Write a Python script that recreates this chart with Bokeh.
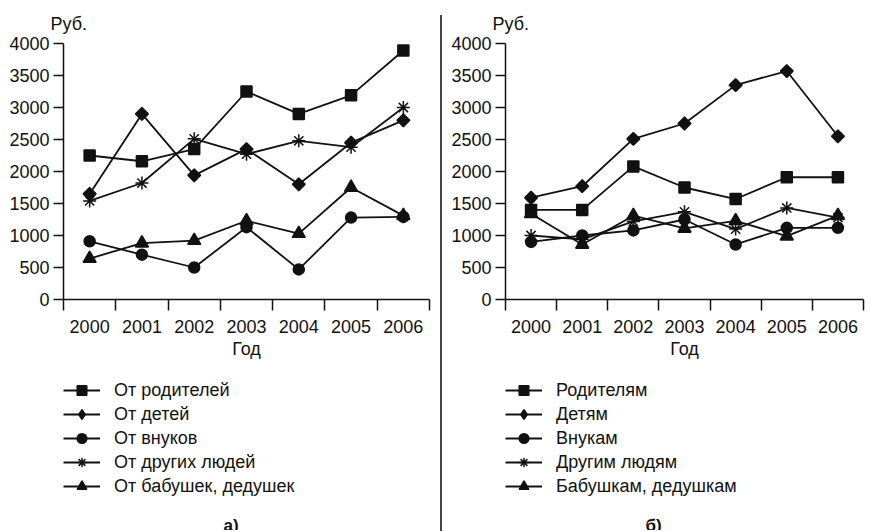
import math
from bokeh.plotting import figure
from bokeh.models import Range1d, FixedTicker, Legend, LegendItem, Label, Div
from bokeh.layouts import row, column
from bokeh.embed import file_html
from bokeh.resources import INLINE

# ---- data ----
years = [2000, 2001, 2002, 2003, 2004, 2005, 2006]
y_ticks = [0, 500, 1000, 1500, 2000, 2500, 3000, 3500, 4000]
unit_label = "Руб."
x_label = "Год"

# (а) received
left_labels = ["От родителей", "От детей", "От внуков", "От других людей", "От бабушек, дедушек"]
from_parents = [2250, 2160, 2350, 3250, 2900, 3190, 3890]
from_children = [1650, 2900, 1940, 2350, 1800, 2450, 2800]
from_grandchildren = [910, 700, 500, 1130, 470, 1280, 1290]
from_others = [1540, 1820, 2510, 2270, 2480, 2380, 3000]
from_grandparents = [640, 880, 920, 1230, 1030, 1750, 1310]

# (б) given
right_labels = ["Родителям", "Детям", "Внукам", "Другим людям", "Бабушкам, дедушкам"]
to_parents = [1400, 1400, 2080, 1750, 1570, 1910, 1910]
to_children = [1590, 1770, 2510, 2750, 3350, 3570, 2550]
to_grandchildren = [900, 1000, 1080, 1250, 860, 1120, 1120]
to_others = [1000, 940, 1220, 1370, 1100, 1430, 1280]
to_grandparents = [1340, 860, 1310, 1110, 1230, 990, 1310]

FONT = "Liberation Sans"
INK = "#111111"
FS = "18px"

# marker style per series: (marker, angle, size) for the chart, and legend marker
styles = [("square", 0.0, 11), ("square", math.pi / 4, 9), ("circle", 0.0, 11),
          ("asterisk", 0.0, 13), ("triangle", 0.0, 13)]
legend_markers = ["square", "diamond", "circle", "asterisk", "triangle"]


def draw_series(p, series, markers=None):
    rs = []
    for i, (vals, (mk, ang, sz)) in enumerate(zip(series, styles)):
        if markers is not None:
            mk, ang = markers[i], 0.0
        lr = p.line(years, vals, line_width=1.8, line_color=INK)
        sr = p.scatter(years, vals, marker=mk, angle=ang, size=sz,
                       fill_color=INK, line_color=INK, line_width=1.5)
        rs.append([lr, sr])
    return rs


def make_panel(frame_w, series, labels, tag, tag_offset):
    # ---- main chart ----
    p = figure(frame_width=frame_w, frame_height=256,
               x_range=Range1d(years[0] - 0.5, years[-1] + 0.5),
               y_range=Range1d(y_ticks[0], y_ticks[-1]),
               output_backend="svg", toolbar_location=None,
               min_border_left=63, min_border_right=5,
               min_border_top=43, min_border_bottom=70,
               title=unit_label)
    p.outline_line_color = None
    p.xgrid.visible = False
    p.ygrid.visible = False

    p.title.align = "left"
    p.title.offset = -13
    p.title.standoff = 20
    p.title.text_font = FONT
    p.title.text_font_size = FS
    p.title.text_font_style = "normal"
    p.title.text_color = INK

    xa = p.xaxis[0]
    xa.ticker = FixedTicker(ticks=years,
                            minor_ticks=[y - 0.5 for y in years] + [years[-1] + 0.5])
    xa.major_tick_out = 0
    xa.major_tick_in = 0
    xa.major_tick_line_color = None
    xa.minor_tick_out = 11
    xa.minor_tick_in = 0
    xa.minor_tick_line_width = 1.5
    xa.minor_tick_line_color = INK
    xa.major_label_standoff = 9
    xa.axis_label = x_label
    xa.axis_label_standoff = 3
    xa.axis_label_text_font_style = "normal"

    ya = p.yaxis[0]
    ya.ticker = FixedTicker(ticks=y_ticks, minor_ticks=[])
    ya.major_tick_out = 10
    ya.major_tick_in = 0
    ya.major_tick_line_width = 1.5
    ya.major_tick_line_color = INK
    ya.major_label_standoff = 4

    for ax in (xa, ya):
        ax.axis_line_width = 1.5
        ax.axis_line_color = INK
        ax.major_label_text_font = FONT
        ax.major_label_text_font_size = FS
        ax.major_label_text_color = INK
        ax.axis_label_text_font = FONT
        ax.axis_label_text_font_size = FS
        ax.axis_label_text_color = INK

    draw_series(p, series)

    # ---- legend strip (data lies outside its ranges, only the legend shows) ----
    q = figure(frame_width=frame_w, frame_height=152,
               x_range=Range1d(0, 1), y_range=Range1d(0, 1),
               x_axis_location=None, y_axis_location=None,
               output_backend="svg", toolbar_location=None,
               min_border_left=63, min_border_right=5,
               min_border_top=9, min_border_bottom=0)
    q.outline_line_color = None
    q.xgrid.visible = False
    q.ygrid.visible = False
    rs = draw_series(q, series, legend_markers)
    items = [LegendItem(label=lab, renderers=r) for lab, r in zip(labels, rs)]
    leg = Legend(items=items, location="top_left",
                 margin=0, padding=0, spacing=0,
                 glyph_width=37, glyph_height=24, label_height=24,
                 label_standoff=14,
                 label_text_font=FONT, label_text_font_size=FS,
                 label_text_color=INK,
                 border_line_color=None, background_fill_alpha=0)
    q.add_layout(leg)
    q.add_layout(Label(x=0, y=0, x_offset=tag_offset, y_offset=5,
                       text=tag, text_baseline="alphabetic", text_align="left",
                       text_font=FONT, text_font_size="17px", text_font_style="bold",
                       text_color=INK))
    return column(p, q)


c1 = make_panel(366,
                [from_parents, from_children, from_grandchildren, from_others, from_grandparents],
                left_labels, "а)", 160)
divider = Div(text="", width=2, height=516, margin=(15, 0, 0, 6),
              styles={"background-color": "#444444"})
c2 = make_panel(358,
                [to_parents, to_children, to_grandchildren, to_others, to_grandparents],
                right_labels, "б)", 140)

layout = row(c1, divider, c2)
open("out.html", "w").write(file_html(layout, INLINE))
